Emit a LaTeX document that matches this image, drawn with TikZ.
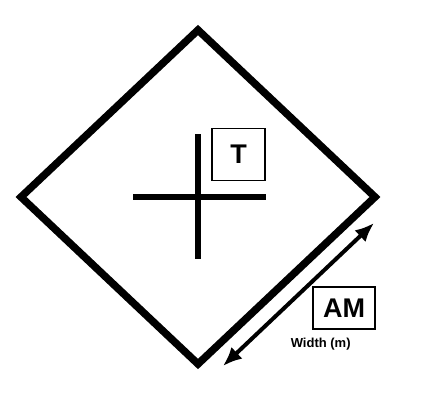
\documentclass[tikz,border=0pt]{standalone}
\usepackage{fontspec}
\setmainfont{Liberation Sans}
\usetikzlibrary{arrows.meta,positioning}

\begin{document}
\begin{tikzpicture}[x=1pt,y=-1pt,font=\bfseries,
  lbl/.style={draw,line width=1.5pt,minimum width=53pt,minimum height=52pt,inner sep=0pt,font=\fontsize{27}{27}\selectfont\bfseries},
  dim/.style={{Latex[length=19pt,width=16pt]}-{Latex[length=19pt,width=16pt]},line width=4pt}]
\useasboundingbox (0,0) rectangle (424,415);
% outline of the diamond
\coordinate (top) at (198,30);
\coordinate (lft) at (21,197);
\coordinate (rgt) at (375,197);
\coordinate (bot) at (198,364);
\draw[line width=7.5pt,miter limit=4] (top)--(rgt)--(bot)--(lft)--cycle;
% cross at the centre
\coordinate (cw) at (133,197); \coordinate (ce) at (266,197);
\coordinate (cn) at (198,134); \coordinate (cs) at (198,259);
\draw[line width=6pt] (cw)--(ce);
\draw[line width=6pt] (cn)--(cs);
% labels
\node[lbl] (t) at (238.5,154.5) {T};
\node[lbl,minimum width=62pt,minimum height=42pt] (am) at (344,308) {AM};
\node[font=\fontsize{13}{13}\selectfont\bfseries,below=5pt of am.south west,anchor=north west,xshift=-25pt] (w) {Width (m)};
% dimension arrow
\coordinate (d1) at (223,366);
\coordinate (d2) at (374,223);
\draw[dim] (d1)--(d2);
\end{tikzpicture}
\end{document}
